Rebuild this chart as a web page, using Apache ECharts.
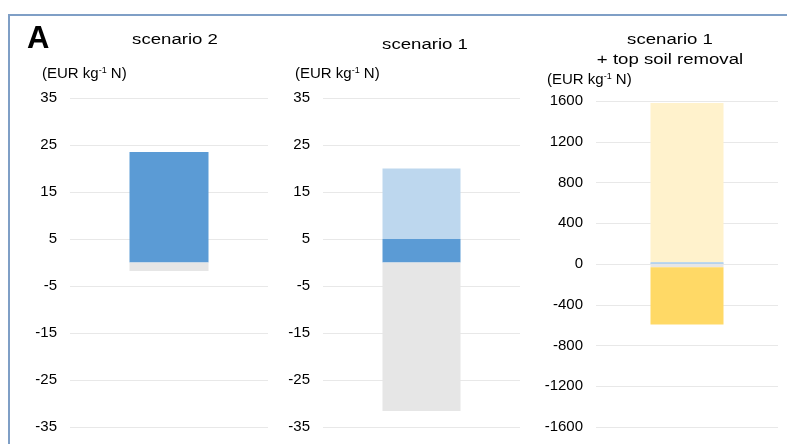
<!DOCTYPE html>
<html>
<head>
<meta charset="utf-8">
<script src="https://cdn.jsdelivr.net/npm/echarts@6/dist/echarts.min.js"></script>
<style>
  html, body { margin: 0; padding: 0; background: #fff; }
  #chart { width: 787px; height: 444px; }
</style>
</head>
<body>
<div id="chart"></div>
<script>
// panel titles
var panelTitles = ['scenario 2', 'scenario 1', 'scenario 1\n+ top soil removal']

// y axis ranges (EUR kg-1 N)
var axisMin = [-35, -35, -1600]
var axisMax = [35, 35, 1600]
var axisStep = [10, 10, 400]

// stacked components per panel
var darkBlue = [23.5, 5, 5]
var lightBlue = [0, 15, 15]
var grey = [-1.8, -31.6, -31.6]
var lightYellow = [0, 0, 1560]
var darkYellow = [0, 0, -563]

var colors = {
  darkBlue: '#5b9bd5',
  lightBlue: '#bdd7ee',
  grey: '#e6e6e6',
  lightYellow: '#fff2cc',
  darkYellow: '#ffd966'
}

var grids = [
  { left: 70, width: 198, top: 98, height: 329 },
  { left: 323, width: 197, top: 98, height: 329 },
  { left: 596, width: 182, top: 101, height: 326 }
]
var barWidths = [79, 78, 73]
var FONT = 'Liberation Sans, Arial'

var myChart = echarts.init(document.getElementById('chart'))

var xAxis = [], yAxis = [], series = []
grids.forEach(function (g, i) {
  xAxis.push({ type: 'category', gridIndex: i, data: ['x'], show: false })
  yAxis.push({
    type: 'value', gridIndex: i,
    min: axisMin[i], max: axisMax[i], interval: axisStep[i],
    axisLine: { show: false }, axisTick: { show: false },
    axisLabel: {
      color: '#000', fontSize: 15, fontFamily: FONT, margin: 13,
      formatter: function (v) { return String(v) }
    },
    splitLine: { lineStyle: { color: '#e8e8e8', width: 1 } }
  })
  function add(name, vals, color) {
    if (!vals[i]) return
    series.push({
      type: 'bar', name: name, xAxisIndex: i, yAxisIndex: i, stack: 's' + i,
      barWidth: barWidths[i], data: [vals[i]],
      itemStyle: { color: color }, silent: true
    })
  }
  add('darkBlue', darkBlue, colors.darkBlue)
  add('lightBlue', lightBlue, colors.lightBlue)
  add('lightYellow', lightYellow, colors.lightYellow)
  add('grey', grey, colors.grey)
  add('darkYellow', darkYellow, colors.darkYellow)
})

// titles are a bit stretched horizontally in the original
function title(txt, x, y) {
  return {
    type: 'text', x: x, y: y, scaleX: 1.2,
    style: { text: txt, font: '15.5px ' + FONT, fill: '#000', align: 'center', verticalAlign: 'middle', lineHeight: 20 }
  }
}
function unit(x, y) {
  return {
    type: 'text', x: x, y: y,
    style: {
      text: '(EUR kg{sup|-1} N)', fontSize: 15, fontFamily: FONT, fill: '#000', verticalAlign: 'middle',
      rich: { sup: { fontSize: 9, verticalAlign: 'top', padding: [0, 0, 7, 0], fontFamily: FONT } }
    }
  }
}

var option = {
  animation: false,
  backgroundColor: '#fff',
  grid: grids,
  xAxis: xAxis,
  yAxis: yAxis,
  series: series,
  graphic: [
    { type: 'polyline', shape: { points: [[9, 444], [9, 15], [787, 15]] }, style: { stroke: '#7f9fc6', lineWidth: 2, fill: null } },
    { type: 'text', x: 27, y: 24, style: { text: 'A', font: 'bold 31px ' + FONT, fill: '#000' } },
    title(panelTitles[0], 175, 40),
    title(panelTitles[1], 425, 45),
    title(panelTitles[2], 670, 49.5),
    unit(42, 74),
    unit(295, 74),
    unit(547, 80)
  ]
}
myChart.setOption(option)
window.onresize = function () { myChart.resize() }
</script>
</body>
</html>
